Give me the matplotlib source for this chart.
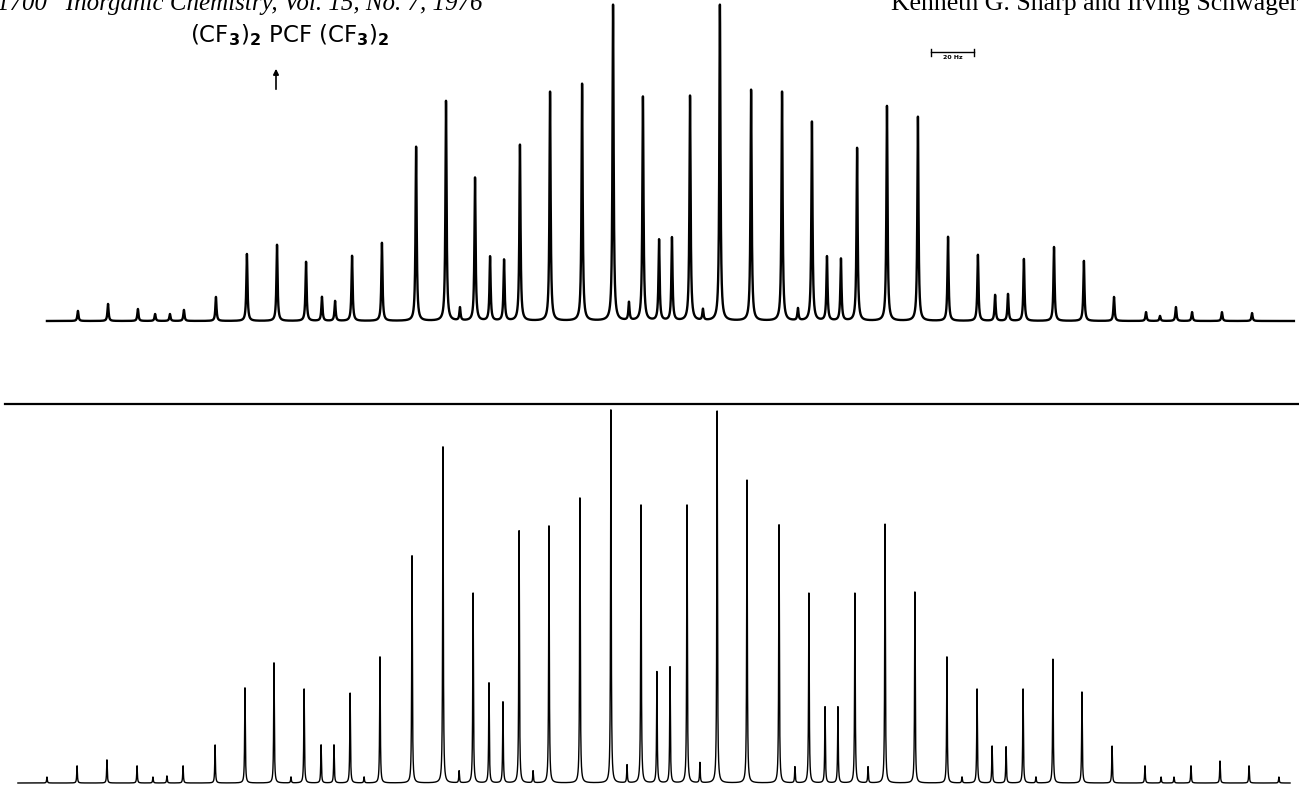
import numpy as np
import matplotlib
matplotlib.use("Agg")
import matplotlib.pyplot as plt
from matplotlib.lines import Line2D

plt.rcParams['mathtext.fontset'] = 'dejavusans'

# observed 19F spectrum (top trace): line positions in Hz from centre, relative intensity
obs_pos = [-272.6, -258.6, -244.7, -236.7, -229.8, -223.3, -208.4, -194.0, -180.0, -166.5,
           -159.1, -153.0, -145.1, -131.2, -115.3, -101.4, -94.9, -87.9, -80.9, -74.4,
           -67.0, -53.0, -38.1, -23.7, -16.3, -9.8, -2.3, 3.7, 12.1, 18.1,
           26.0, 40.5, 54.9, 62.3, 68.8, 75.8, 82.3, 89.8, 103.7, 118.1,
           132.1, 146.0, 154.0, 160.0, 167.4, 181.4, 195.3, 209.3, 224.2, 230.7,
           238.1, 245.6, 259.5, 273.5]
obs_int = [3.2, 5.4, 3.8, 2.2, 2.2, 3.5, 7.6, 21.2, 24.1, 18.7,
           7.6, 6.3, 20.6, 24.7, 55.1, 69.6, 4.1, 45.3, 20.3, 19.3,
           55.7, 72.5, 75.0, 100.0, 5.7, 70.9, 25.6, 26.3, 71.2, 3.5,
           100.0, 73.1, 72.5, 3.8, 63.0, 20.3, 19.6, 54.7, 68.0, 64.6,
           26.6, 20.9, 8.2, 8.5, 19.6, 23.4, 19.0, 7.6, 2.8, 1.6,
           4.4, 2.8, 2.8, 2.5]

# computed spectrum (bottom trace)
sim_pos = [-287.0, -273.0, -259.1, -245.1, -237.7, -231.2, -223.7, -208.8, -194.9, -181.4,
           -173.5, -167.4, -159.5, -153.5, -146.0, -139.5, -132.1, -117.2, -102.8, -95.3,
           -88.8, -81.4, -74.9, -67.4, -60.9, -53.5, -39.1, -24.7, -17.2, -10.7,
           -3.3, 2.8, 10.7, 16.7, 24.7, 38.6, 53.5, 60.9, 67.4, 74.9,
           80.9, 88.8, 94.9, 102.8, 116.7, 131.6, 138.6, 145.6, 152.6, 159.1,
           167.0, 173.0, 180.9, 194.4, 208.4, 223.7, 231.2, 237.2, 245.1, 258.6,
           272.1, 286.0]
sim_int = [1.6, 4.6, 6.2, 4.6, 1.6, 1.9, 4.6, 10.2, 25.5, 32.2,
           1.6, 25.2, 10.2, 10.2, 24.1, 1.6, 33.8, 60.9, 90.1, 3.2,
           50.9, 26.8, 21.7, 67.6, 3.2, 68.9, 76.4, 100.0, 4.8, 74.5,
           29.8, 31.1, 74.5, 5.4, 99.7, 81.2, 69.2, 4.3, 50.9, 20.4,
           20.4, 50.9, 4.3, 69.4, 51.2, 33.8, 1.6, 25.2, 9.9, 9.7,
           25.2, 1.6, 33.2, 24.4, 9.9, 4.6, 1.6, 1.6, 4.6, 5.9,
           4.6, 1.6]

obs_window = (-287.0, 293.0)
sim_window = (-300.5, 291.2)
obs_hwhm = 0.32
sim_hwhm = 0.18

compound = r"(CF$_\mathbf{3}$)$_\mathbf{2}$ PCF (CF$_\mathbf{3}$)$_\mathbf{2}$"
journal = "1700   Inorganic Chemistry, Vol. 15, No. 7, 1976"
authors = "Kenneth G. Sharp and Irving Schwager"
scale_hz = (124.2, 144.2)


def lorentz_sum(x, pos, amp, hwhm):
    y = np.zeros_like(x)
    for p, a in zip(pos, amp):
        y += a * hwhm ** 2 / ((x - p) ** 2 + hwhm ** 2)
    return y


W, H = 1299, 789
fig = plt.figure(figsize=(W / 100, H / 100), dpi=100)
xlim = (-664 / 2.15, (W - 664) / 2.15)

# top: observed
ax1 = fig.add_axes([0, (H - 321) / H, 1, 316 / H])
x1 = np.arange(obs_window[0], obs_window[1], 0.02)
ax1.plot(x1, lorentz_sum(x1, obs_pos, obs_int, obs_hwhm), color='black', lw=1.7, clip_on=False)
ax1.set_xlim(xlim)
ax1.set_ylim(0, 100)
ax1.axis('off')

# scale bar 20 Hz
ax1.plot(scale_hz, [85, 85], color='black', lw=1.0)
for s in scale_hz:
    ax1.plot([s, s], [84.0, 86.0], color='black', lw=1.0)
ax1.text(np.mean(scale_hz), 84.3, "20 Hz", fontsize=4.5, fontweight='bold',
         ha='center', va='top', family='DejaVu Sans')

# bottom: computed
ax2 = fig.add_axes([0, (H - 783) / H, 1, 373 / H])
x2 = np.arange(sim_window[0], sim_window[1], 0.02)
ax2.plot(x2, lorentz_sum(x2, sim_pos, sim_int, sim_hwhm), color='black', lw=1.0, clip_on=False)
ax2.set_xlim(xlim)
ax2.set_ylim(0, 100)
ax2.axis('off')

# separator rule
fig.add_artist(Line2D([5 / W, 1], [1 - 404 / H, 1 - 404 / H], transform=fig.transFigure,
                      color='black', lw=1.6))

# compound label with arrow
fig.text(190 / W, 1 - 42 / H, compound, fontsize=16.5, family='DejaVu Sans',
         ha='left', va='baseline')
fig.add_artist(matplotlib.patches.FancyArrowPatch((276 / W, 1 - 92 / H), (276 / W, 1 - 66 / H),
                                                  transform=fig.transFigure, arrowstyle='-|>',
                                                  mutation_scale=8, color='black', lw=1.2))

# running header (cut at the page top)
fig.text(-3 / W, 1 - 10 / H, journal, fontsize=18, family='Liberation Serif', style='italic',
         ha='left', va='baseline')
fig.text(1298 / W, 1 - 10 / H, authors, fontsize=18.5, family='Liberation Serif',
         ha='right', va='baseline')

fig.savefig("out.png", dpi=100, facecolor='white')
